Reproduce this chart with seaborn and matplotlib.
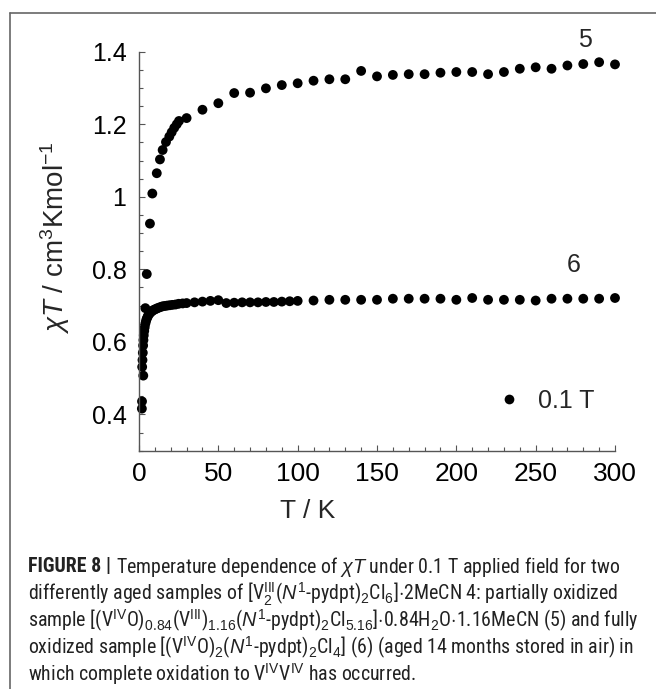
import matplotlib
matplotlib.use("Agg")
import matplotlib.pyplot as plt
import matplotlib.font_manager as fm
from matplotlib.lines import Line2D
from matplotlib.ticker import MultipleLocator, FuncFormatter
import seaborn as sns
import pandas as pd

# Sample 5: partially oxidized
temp_5 = [4.0, 4.9, 6.9, 8.4, 11.2, 13.2, 14.9, 17.0, 19.1, 20.6, 22.2, 23.8, 25.2,
          30, 40, 50, 60, 70, 80, 90, 100, 110, 120, 130, 140, 150, 160, 170, 180,
          190, 200, 210, 220, 230, 240, 250, 260, 270, 280, 290, 300]
chi_t_5 = [0.693, 0.787, 0.926, 1.009, 1.065, 1.103, 1.129, 1.151, 1.166, 1.178, 1.190,
           1.200, 1.209, 1.217, 1.240, 1.258, 1.286, 1.287, 1.299, 1.308, 1.313, 1.320,
           1.324, 1.324, 1.347, 1.332, 1.336, 1.338, 1.338, 1.342, 1.344, 1.344, 1.338,
           1.344, 1.353, 1.357, 1.353, 1.362, 1.366, 1.371, 1.365]

# Sample 6: fully oxidized
temp_6 = [1.8, 1.9, 2.0, 2.7, 2.2, 2.4, 2.6, 2.8, 3.0, 3.3, 3.6, 4.0, 4.4, 4.8, 5.3,
          5.8, 6.4, 7.0, 7.7, 8.5, 9.3, 10.2, 11.2, 12.3, 13.5, 14.8, 16.2, 17.7, 19.3,
          21, 23, 25, 27.5, 30, 35, 40, 45, 50, 55, 60, 65, 70, 75, 80, 85, 90, 95, 100,
          110, 120, 130, 140, 150, 160, 170, 180, 190, 200, 210, 220, 230, 240, 250,
          260, 270, 280, 290, 300]
chi_t_6 = [0.416, 0.436, 0.531, 0.507, 0.55, 0.57, 0.59, 0.605, 0.618, 0.63, 0.64,
           0.65, 0.657, 0.663, 0.668, 0.673, 0.677, 0.68, 0.683, 0.686, 0.688, 0.69,
           0.692, 0.694, 0.696, 0.698, 0.699, 0.70, 0.701, 0.702, 0.703, 0.705, 0.706,
           0.707, 0.709, 0.711, 0.713, 0.715, 0.707, 0.708, 0.709, 0.709, 0.709, 0.71,
           0.71, 0.711, 0.712, 0.713, 0.714, 0.716, 0.716, 0.716, 0.716, 0.719, 0.719,
           0.719, 0.719, 0.716, 0.721, 0.716, 0.716, 0.716, 0.714, 0.719, 0.719, 0.719,
           0.719, 0.721]

y_ticks = [0.4, 0.6, 0.8, 1.0, 1.2, 1.4]
x_ticks = [0, 50, 100, 150, 200, 250, 300]

caption_head = "FIGURE 8 |"
caption_lines = [
    r"Temperature dependence of $\chi T$ under 0.1 T applied field for two",
    r"differently aged samples of [V$_2^{\mathrm{III}}$($N^1$-pydpt)$_2$Cl$_6$]$\cdot$2MeCN 4: partially oxidized",
    r"sample [(V$^{\mathrm{IV}}$O)$_{0.84}$(V$^{\mathrm{III}}$)$_{1.16}$($N^1$-pydpt)$_2$Cl$_{5.16}$]$\cdot$0.84H$_2$O$\cdot$1.16MeCN (5) and fully",
    r"oxidized sample [(V$^{\mathrm{IV}}$O)$_2$($N^1$-pydpt)$_2$Cl$_4$] (6) (aged 14 months stored in air) in",
    r"which complete oxidation to V$^{\mathrm{IV}}$V$^{\mathrm{IV}}$ has occurred.",
]

# narrow face for the caption if there is one
CAP_FONT, CAP_SIZE = "Liberation Sans", 12.6
for name, size in [("Liberation Sans Narrow", 14.3), ("Roboto Condensed", 14.3)]:
    try:
        fm.findfont(name, fallback_to_default=False)
        CAP_FONT, CAP_SIZE = name, size
        break
    except ValueError:
        pass

sns.set_style("ticks")
plt.rcParams["font.family"] = ["Liberation Sans", "DejaVu Sans"]
plt.rcParams["mathtext.fontset"] = "custom"
plt.rcParams["mathtext.rm"] = "Liberation Sans"
plt.rcParams["mathtext.it"] = "Liberation Sans:italic"
plt.rcParams["mathtext.bf"] = "Liberation Sans:bold"

df5 = pd.DataFrame({"T": temp_5, "chiT": chi_t_5})
df6 = pd.DataFrame({"T": temp_6, "chiT": chi_t_6})

fig = plt.figure(figsize=(6.56, 6.89), dpi=100)
ax = fig.add_axes([139 / 656, 1 - 450.7 / 689, 476 / 656, 399 / 689])

sns.scatterplot(data=df5, x="T", y="chiT", ax=ax, color="black", s=50,
                edgecolor="none", legend=False, clip_on=False)
sns.scatterplot(data=df6, x="T", y="chiT", ax=ax, color="black", s=50,
                edgecolor="none", legend=False, clip_on=False)

ax.set_xlim(0, 300)
ax.set_ylim(0.3, 1.4)
ax.set_xticks(x_ticks)
ax.set_yticks(y_ticks)
ax.xaxis.set_minor_locator(MultipleLocator(10))
ax.yaxis.set_minor_locator(MultipleLocator(0.05))
ax.yaxis.set_major_formatter(FuncFormatter(lambda v, p: f"{v:g}"))

sns.despine(ax=ax)
for s in ["left", "bottom"]:
    ax.spines[s].set_color("#555555")
    ax.spines[s].set_linewidth(1.0)
ax.tick_params(which="major", direction="in", length=4.5, width=0.8, color="#555555",
               labelcolor="black")
ax.tick_params(which="minor", direction="in", length=3, width=0.8, color="#555555")
ax.tick_params(axis="y", which="major", pad=9, labelsize=18)
ax.tick_params(axis="x", which="major", pad=8, labelsize=19)

ax.set_xlabel("T / K", fontsize=19)
ax.xaxis.set_label_coords(0.355, -0.122)
ax.set_ylabel(r"$\chi T$ / cm$^3$Kmol$^{-1}$", fontsize=20)
ax.yaxis.set_label_coords(-0.14, 0.535)

ax.text(281, 1.432, "5", fontsize=18, ha="center", va="center")
ax.text(274, 0.812, "6", fontsize=18, ha="center", va="center")

handle = Line2D([], [], linestyle="none", marker="o", markersize=7,
                markerfacecolor="black", markeredgecolor="none")
ax.legend([handle], ["0.1 T"], loc="center left", bbox_to_anchor=(0.75, 0.125),
          frameon=False, fontsize=18, handlelength=1.0, handletextpad=0.7,
          borderpad=0, borderaxespad=0)

# outer frame of the figure panel
fig.add_artist(Line2D([10 / 656, 1], [1 - 13 / 689, 1 - 13 / 689],
                      transform=fig.transFigure, color="#666666", lw=1.2))
fig.add_artist(Line2D([10 / 656, 10 / 656], [0, 1 - 13 / 689],
                      transform=fig.transFigure, color="#666666", lw=1.2))

# caption below the chart
line_y = [567, 594, 621, 648, 674]
head = fig.text(28 / 656, 1 - line_y[0] / 689, caption_head, fontsize=CAP_SIZE,
                family=CAP_FONT, fontweight="bold", ha="left", va="center",
                color="#222222")
renderer = fig.canvas.get_renderer()
head_end = head.get_window_extent(renderer).x1 + 5
for i, (yy, line) in enumerate(zip(line_y, caption_lines)):
    x0 = head_end / 656 if i == 0 else 28 / 656
    fig.text(x0, 1 - yy / 689, line, fontsize=CAP_SIZE, family=CAP_FONT,
             ha="left", va="center", color="#222222")

fig.savefig("out.png", dpi=100)
